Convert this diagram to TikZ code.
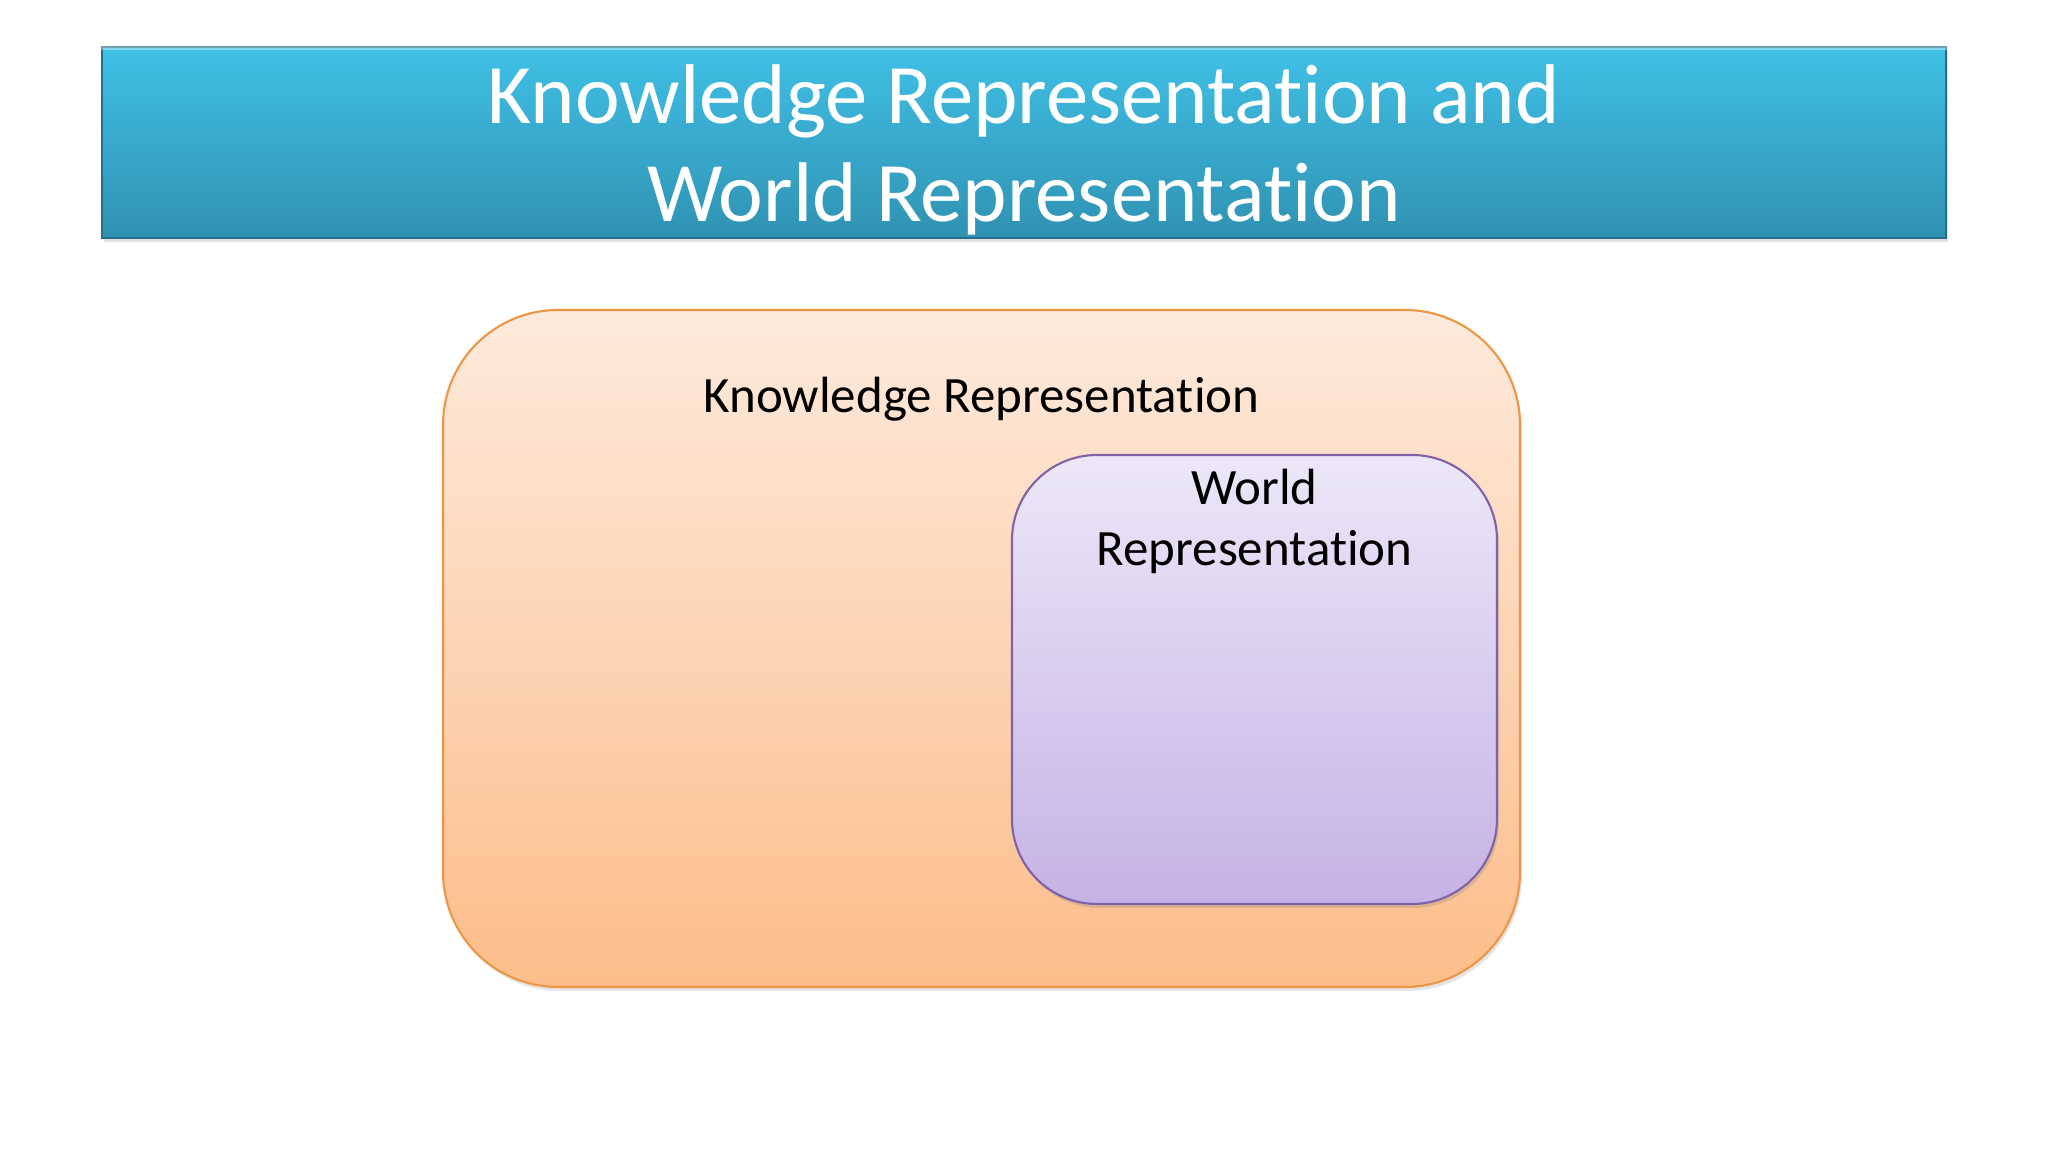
\documentclass[tikz,border=0pt]{standalone}
\usepackage{fontspec}
\setmainfont[Ligatures=NoCommon]{Carlito}
\usetikzlibrary{shadows}

\definecolor{barTop}{RGB}{64,192,230}
\definecolor{barBot}{RGB}{48,146,178}
\definecolor{barEdge}{RGB}{38,110,138}
\definecolor{krTop}{RGB}{253,234,220}
\definecolor{krBot}{RGB}{252,189,138}
\definecolor{krEdge}{RGB}{236,150,70}
\definecolor{wrTop}{RGB}{236,231,248}
\definecolor{wrBot}{RGB}{198,178,228}
\definecolor{wrEdge}{RGB}{128,98,168}

\tikzset{
  titlebar/.style={draw=barEdge, line width=0.6pt, top color=barTop, bottom color=barBot,
    minimum width=18.44cm, minimum height=1.91cm, inner sep=0pt,
    drop shadow={opacity=0.25, shadow xshift=0.02cm, shadow yshift=-0.04cm}},
  krbox/.style={draw=krEdge, line width=0.6pt, top color=krTop, bottom color=krBot,
    rounded corners=1.15cm, minimum width=10.77cm, minimum height=6.77cm, inner sep=0pt,
    drop shadow={opacity=0.2, shadow xshift=0.02cm, shadow yshift=-0.04cm}},
  wrbox/.style={draw=wrEdge, line width=0.6pt, top color=wrTop, bottom color=wrBot,
    rounded corners=0.85cm, minimum width=4.85cm, minimum height=4.49cm, inner sep=0pt,
    drop shadow={opacity=0.25, shadow xshift=0.02cm, shadow yshift=-0.04cm}},
  titletext/.style={anchor=base, inner sep=0pt, text=white, font=\fontsize{24.1}{29}\selectfont},
  boxtext/.style={anchor=base, inner sep=0pt, text=black, font=\fontsize{14.5}{18}\selectfont}
}

\begin{document}
\begin{tikzpicture}
	\useasboundingbox[fill=white] (0,0) rectangle (20.48,11.52);
	% title
	\node [titlebar] (bar) at (10.24, 10.095) {};
	\draw [white, opacity=0.35, line width=1pt] ([yshift=-0.6pt]bar.north west) -- ([yshift=-0.6pt]bar.north east);
	\node [titletext] (title1) at (10.24, 10.28) {Knowledge Representation and};
	\node [titletext] (title2) at (10.24, 9.30) {World Representation};
	% outer box
	\node [krbox] (kr) at (9.815, 5.035) {};
	\node [boxtext] (krlabel) at (9.815, 7.39) {Knowledge Representation};
	% inner box
	\node [wrbox] (wr) at (12.545, 4.725) {};
	\node [boxtext] (wrlabel1) at (12.545, 6.47) {World};
	\node [boxtext] (wrlabel2) at (12.545, 5.86) {Representation};
\end{tikzpicture}
\end{document}
